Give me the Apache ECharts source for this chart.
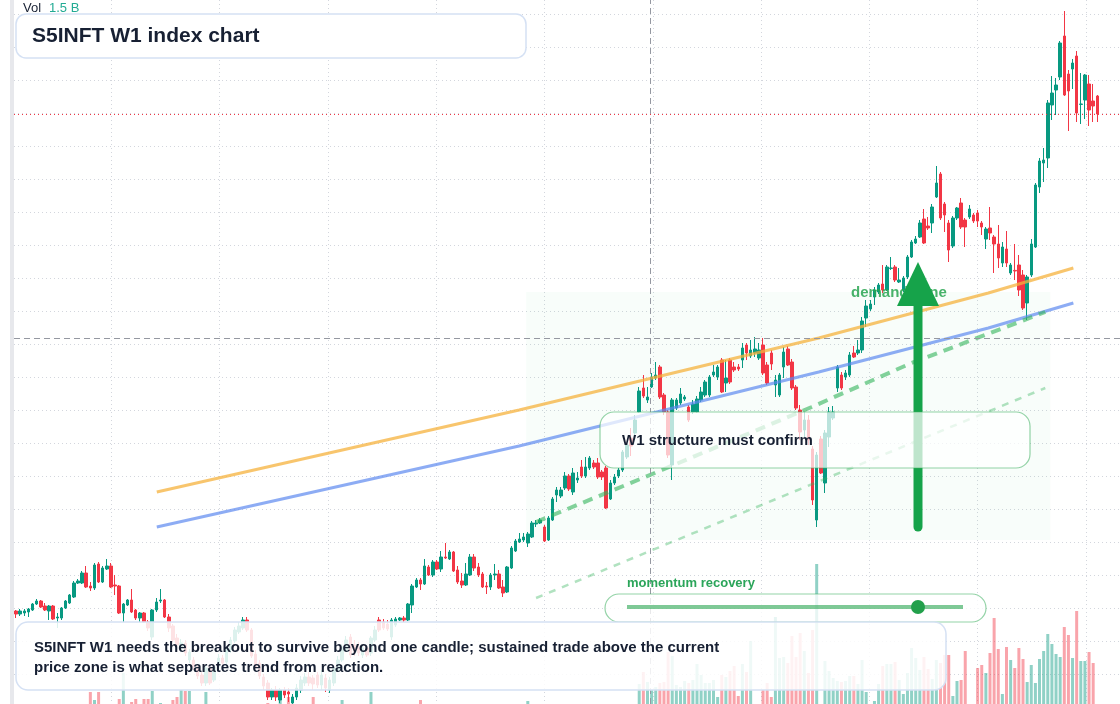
<!DOCTYPE html>
<html>
<head>
<meta charset="utf-8">
<title>S5INFT W1 index chart</title>
<script src="https://cdn.jsdelivr.net/npm/echarts@6/dist/echarts.min.js"></script>
<style>
  html, body { margin: 0; padding: 0; background: #ffffff; }
  #chart { width: 1120px; height: 704px; }
</style>
</head>
<body>
<div id="chart"></div>
<script>
(function (window) {
  'use strict';

  // weekly OHLC
  var opens = [
    945, 930, 935, 940, 950, 980, 995, 970, 945, 970,
    910, 910, 960, 985, 1015, 1085, 1085, 1135, 1070, 1060,
    1180, 1090, 1155, 1170, 1075, 1070, 935, 975, 1000, 950,
    910, 935, 890, 815, 950, 995, 1000, 915, 870, 810,
    760, 785, 700, 700, 660, 625, 585, 660, 600, 665,
    710, 690, 750, 795, 840, 860, 900, 850, 730, 685,
    615, 585, 515, 550, 500, 550, 540, 485, 515, 550,
    585, 615, 610, 625, 575, 610, 550, 585, 650, 700,
    750, 815, 775, 760, 725, 760, 735, 800, 900, 890,
    880, 815, 875, 900, 910, 900, 975, 1065, 1100, 1080,
    1165, 1125, 1190, 1155, 1215, 1205, 1240, 1150, 1095, 1075,
    1125, 1215, 1165, 1130, 1070, 1065, 1125, 1130, 1065, 1040,
    1160, 1245, 1290, 1300, 1285, 1315, 1380, 1385, 1365, 1300,
    1400, 1525, 1520, 1560, 1620, 1540, 1600, 1665, 1620, 1660,
    1685, 1685, 1640, 1660, 1505, 1585, 1620, 1650, 1715, 1810,
    1835, 1940, 2060, 2000, 2065, 2110, 2165, 2025, 1940, 1675,
    1960, 1985, 2005, 1965, 1940, 1940, 2000, 2025, 2025, 2125,
    2115, 2200, 2085, 2200, 2165, 2165, 2200, 2275, 2220, 2235,
    2210, 2275, 2175, 2235, 2075, 2025, 2165, 2255, 2190, 2065,
    1950, 1850, 1900, 1755, 1400, 1805, 1585, 1815, 1910, 2060,
    2125, 2115, 2125, 2235, 2235, 2250, 2410, 2455, 2515, 2540,
    2580, 2550, 2658, 2665, 2590, 2550, 2615, 2715, 2785, 2815,
    2905, 2870, 2885, 3015, 3130, 2980, 2885, 2770, 2910, 2985,
    2900, 2915, 2925, 2935, 2885, 2805, 2860, 2815, 2780, 2685,
    2755, 2635, 2648, 2675, 2625, 2485, 2625, 2765, 3065, 3185,
    3210, 3475, 3550, 3615, 3820, 3630, 3655, 3720, 3478, 3500,
    3580, 3495, 3520
  ];
  var closes = [
    930, 945, 945, 955, 980, 995, 965, 950, 970, 905,
    915, 960, 995, 1025, 1085, 1095, 1135, 1065, 1060, 1175,
    1090, 1160, 1170, 1065, 1070, 935, 980, 1000, 940, 910,
    935, 890, 860, 950, 990, 1000, 915, 860, 800, 775,
    785, 735, 740, 665, 620, 585, 660, 585, 665, 710,
    685, 750, 800, 850, 870, 900, 850, 720, 665, 620,
    570, 515, 550, 515, 550, 525, 530, 515, 560, 600,
    615, 585, 580, 575, 625, 560, 600, 660, 700, 765,
    800, 725, 740, 735, 760, 725, 810, 850, 850, 860,
    855, 900, 905, 910, 900, 980, 1070, 1100, 1080, 1170,
    1125, 1190, 1155, 1215, 1210, 1240, 1145, 1090, 1075, 1130,
    1215, 1160, 1125, 1065, 1065, 1125, 1130, 1060, 1035, 1165,
    1260, 1295, 1305, 1315, 1330, 1385, 1385, 1400, 1295, 1410,
    1505, 1550, 1550, 1620, 1555, 1635, 1610, 1620, 1665, 1710,
    1665, 1615, 1615, 1460, 1585, 1615, 1650, 1740, 1775, 1770,
    1900, 2045, 2020, 2015, 2115, 2125, 2015, 1940, 1725, 2000,
    2000, 2030, 2015, 1900, 1980, 2005, 2040, 2090, 2115, 2140,
    2165, 2040, 2110, 2090, 2150, 2155, 2260, 2235, 2250, 2255,
    2250, 2135, 2085, 2180, 2100, 2125, 2240, 2175, 2060, 1960,
    1840, 1900, 1800, 1500, 1725, 1635, 1835, 1940, 1940, 2165,
    2060, 2135, 2225, 2215, 2250, 2395, 2470, 2480, 2550, 2575,
    2550, 2665, 2660, 2600, 2600, 2610, 2715, 2790, 2805, 2885,
    2785, 2860, 2965, 3085, 2910, 2925, 2750, 2910, 2960, 2865,
    2865, 2955, 2895, 2895, 2865, 2855, 2835, 2780, 2710, 2765,
    2685, 2675, 2645, 2550, 2460, 2615, 2780, 3075, 3195, 3200,
    3485, 3535, 3575, 3785, 3525, 3545, 3685, 3435, 3480, 3625,
    3450, 3470, 3430
  ];
  var lows = [
    910, 920, 920, 915, 945, 975, 960, 945, 900, 900,
    860, 900, 955, 980, 1010, 1080, 1080, 1060, 1045, 1050,
    1085, 1085, 1150, 1060, 1025, 930, 890, 970, 935, 900,
    890, 885, 845, 800, 940, 985, 910, 840, 790, 760,
    740, 720, 685, 650, 605, 570, 570, 575, 590, 655,
    670, 680, 735, 785, 830, 850, 840, 710, 655, 605,
    550, 500, 500, 495, 485, 510, 490, 470, 500, 535,
    570, 570, 550, 560, 550, 540, 535, 570, 640, 690,
    740, 710, 720, 720, 710, 715, 720, 790, 840, 850,
    845, 800, 865, 895, 890, 895, 935, 1060, 1050, 1075,
    1120, 1115, 1150, 1140, 1205, 1200, 1140, 1080, 1060, 1070,
    1120, 1145, 1115, 1060, 1030, 1050, 1100, 1055, 1015, 1035,
    1155, 1240, 1285, 1290, 1265, 1310, 1365, 1380, 1290, 1295,
    1395, 1490, 1510, 1550, 1545, 1525, 1585, 1610, 1610, 1650,
    1655, 1605, 1600, 1455, 1500, 1575, 1610, 1640, 1705, 1720,
    1825, 1935, 2010, 1985, 2060, 2100, 2005, 1925, 1710, 1600,
    1950, 1975, 1995, 1890, 1930, 1935, 1990, 2015, 2015, 2115,
    2100, 2035, 2040, 2080, 2140, 2145, 2160, 2200, 2210, 2215,
    2200, 2125, 2075, 2150, 2015, 2015, 2110, 2170, 2050, 1950,
    1800, 1815, 1775, 1475, 1365, 1630, 1535, 1765, 1900, 2040,
    2050, 2100, 2115, 2210, 2225, 2235, 2365, 2445, 2475, 2530,
    2535, 2545, 2650, 2590, 2585, 2540, 2605, 2710, 2780, 2810,
    2780, 2850, 2835, 3010, 2900, 2840, 2690, 2760, 2900, 2855,
    2765, 2905, 2885, 2865, 2825, 2755, 2800, 2635, 2660, 2665,
    2665, 2625, 2600, 2520, 2450, 2400, 2615, 2760, 3035, 3090,
    3160, 3400, 3425, 3600, 3520, 3345, 3555, 3390, 3380, 3405,
    3370, 3390, 3390
  ];
  var highs = [
    950, 955, 955, 960, 985, 1005, 1000, 985, 975, 975,
    935, 965, 1000, 1030, 1095, 1105, 1145, 1170, 1090, 1185,
    1190, 1170, 1205, 1185, 1125, 1075, 985, 1005, 1055, 955,
    940, 940, 900, 955, 1010, 1055, 1005, 930, 880, 830,
    805, 800, 755, 715, 680, 640, 675, 670, 680, 730,
    725, 765, 815, 865, 890, 915, 915, 860, 750, 700,
    630, 600, 560, 570, 560, 565, 560, 530, 580, 620,
    635, 640, 625, 640, 650, 630, 615, 675, 720, 780,
    820, 830, 800, 790, 775, 775, 820, 870, 915, 905,
    900, 910, 915, 915, 920, 985, 1080, 1110, 1110, 1205,
    1175, 1200, 1200, 1245, 1285, 1250, 1245, 1170, 1135, 1185,
    1230, 1230, 1185, 1140, 1090, 1135, 1180, 1150, 1100, 1170,
    1270, 1305, 1335, 1335, 1340, 1395, 1400, 1410, 1375, 1420,
    1515, 1565, 1565, 1640, 1630, 1660, 1640, 1700, 1715, 1720,
    1700, 1710, 1650, 1670, 1600, 1630, 1660, 1750, 1785, 1860,
    1925, 2065, 2125, 2065, 2135, 2190, 2175, 2035, 1950, 2010,
    2010, 2060, 2025, 1975, 2000, 2020, 2065, 2100, 2125, 2175,
    2175, 2210, 2200, 2210, 2190, 2180, 2285, 2285, 2300, 2315,
    2285, 2310, 2190, 2250, 2125, 2135, 2265, 2270, 2205, 2075,
    1975, 1940, 1925, 1770, 1740, 1820, 1850, 1965, 1970, 2175,
    2140, 2150, 2240, 2270, 2300, 2415, 2500, 2500, 2565, 2585,
    2675, 2675, 2715, 2675, 2660, 2620, 2725, 2800, 2820, 2900,
    2955, 2915, 2980, 3170, 3140, 2990, 2900, 2920, 2965, 3010,
    2910, 2975, 2935, 2950, 2895, 2865, 2965, 2825, 2875, 2790,
    2845, 2685, 2780, 2725, 2650, 2625, 2805, 3085, 3210, 3260,
    3500, 3620, 3610, 3795, 3945, 3650, 3705, 3745, 3635, 3630,
    3625, 3580, 3525
  ];
  // weekly volume, millions
  var volumes = [
    150, 120, 100, 140, 180, 160, 130, 150, 200, 220,
    240, 190, 160, 170, 230, 150, 180, 210, 380, 300,
    380, 240, 200, 260, 250, 310, 570, 230, 280, 310,
    240, 310, 310, 390, 250, 270, 240, 250, 300, 330,
    400, 390, 390, 260, 240, 250, 380, 220, 200, 180,
    210, 190, 170, 200, 230, 250, 240, 260, 220, 230,
    250, 270, 230, 240, 300, 250, 330, 260, 220, 210,
    230, 200, 330, 220, 200, 230, 210, 190, 220, 300,
    240, 260, 220, 210, 200, 230, 380, 240, 220, 200,
    210, 230, 200, 180, 190, 210, 250, 220, 300, 200,
    190, 210, 220, 180, 200, 230, 220, 240, 210, 200,
    190, 220, 230, 200, 210, 190, 220, 240, 200, 210,
    190, 200, 220, 210, 290, 220, 200, 210, 190, 230,
    240, 220, 210, 200, 190, 230, 240, 220, 210, 250,
    230, 220, 240, 260, 230, 220, 240, 250, 230, 240,
    250, 460, 580, 480, 400, 430, 470, 480, 780, 740,
    450, 430, 490, 470, 500, 660, 550, 470, 470, 500,
    330, 550, 530, 590, 640, 340, 660, 580, 890, 150,
    150, 400, 470, 330, 1130, 720, 730, 670, 940, 730,
    970, 790, 570, 1000, 1660, 180, 690, 590, 520, 490,
    480, 490, 540, 540, 460, 700, 380, 180, 290, 460,
    640, 660, 660, 680, 500, 360, 570, 820, 720, 600,
    730, 610, 510, 700, 670, 750, 750, 340, 490, 500,
    790, 180, 180, 620, 650, 570, 770, 1120, 810, 360,
    830, 700, 620, 820, 710, 480, 650, 470, 710, 790,
    960, 860, 760, 730, 1030, 950, 720, 1190, 690, 690,
    780, 670, 150
  ];

  // drawn studies, [week index, price]
  var upperTrend = [[34.1, 1540], [121.9, 1950], [194.5, 2310], [235.6, 2535], [256.2, 2660]];
  var lowerTrend = [[34.1, 1365], [121.9, 1770], [194.5, 2140], [235.6, 2360], [256.2, 2485]];
  var supportDash = [[126.0, 1390], [156.5, 1650], [192.8, 1965], [217.0, 2185], [249.4, 2440]];
  var supportFaint = [[126.0, 1010], [249.4, 2060]];
  var demandZone = [[123.6, 2540], [250.6, 1300]];
  var crosshair = [153.6, 2310];

  var UP = '#089981';
  var DOWN = '#f23645';
  var INK = '#172033';
  var FONT = '"Liberation Sans", Arial, sans-serif';
  var PAD = 5; // empty weeks on the right

  var weeks = [];
  var d = new Date(Date.UTC(2020, 11, 7));
  for (var i = 0; i < opens.length + PAD; i++) {
    weeks.push(d.toISOString().slice(0, 10));
    d.setUTCDate(d.getUTCDate() + 7);
  }

  var candles = opens.map(function (o, i) {
    return [o, closes[i], lows[i], highs[i]];
  });

  var band = 4.1331;
  var plotWidth = band * weeks.length;
  var hidden = { axisLine: { show: false }, axisTick: { show: false }, axisLabel: { show: false }, splitLine: { show: false } };
  var dots = { show: true, lineStyle: { color: '#d3d6dd', type: [1, 3], width: 1 } };

  function ax(extra) {
    return Object.assign({}, hidden, extra);
  }

  var myChart = echarts.init(document.getElementById('chart'));
  var option = {
    animation: false,
    backgroundColor: '#ffffff',
    grid: [
      { left: 14, top: 0, width: plotWidth, height: 704 },
      { left: 14, top: 554, width: plotWidth, height: 150 },
      { left: 111.3, top: 0, width: 974.7, height: 704 },
      { left: 14, top: 14, width: 1106, height: 660 }
    ],
    xAxis: [
      ax({ type: 'category', gridIndex: 0, data: weeks, boundaryGap: true }),
      ax({ type: 'value', gridIndex: 0, min: -0.5, max: weeks.length - 0.5 }),
      ax({ type: 'category', gridIndex: 1, data: weeks, boundaryGap: true }),
      ax({ type: 'value', gridIndex: 2, min: 0, max: 974.7, interval: 108.3, splitLine: dots }),
      ax({ type: 'value', gridIndex: 3, min: 0, max: 1 })
    ],
    yAxis: [
      ax({ type: 'value', gridIndex: 0, min: 480, max: 4000 }),
      // the volume pane's zero sits below the window, so light weeks stay hidden
      ax({ type: 'value', gridIndex: 1, min: 260, max: 1760 }),
      ax({ type: 'value', gridIndex: 2, min: 0, max: 1 }),
      ax({ type: 'value', gridIndex: 3, min: 0, max: 20, interval: 1, splitLine: dots })
    ],
    series: [
      {
        name: 'zone',
        type: 'line',
        xAxisIndex: 1,
        yAxisIndex: 0,
        z: 1,
        silent: true,
        symbol: 'none',
        lineStyle: { opacity: 0 },
        data: demandZone,
        markArea: {
          silent: true,
          itemStyle: { color: 'rgba(34,180,90,0.03)' },
          data: [[{ coord: demandZone[0] }, { coord: demandZone[1] }]]
        }
      },
      {
        name: 'Vol',
        type: 'bar',
        xAxisIndex: 2,
        yAxisIndex: 1,
        z: 2,
        barWidth: 3,
        clip: true,
        data: volumes,
        itemStyle: {
          color: function (p) {
            return closes[p.dataIndex] >= opens[p.dataIndex] ? 'rgba(8,153,129,0.45)' : 'rgba(242,54,69,0.45)';
          }
        }
      },
      {
        name: 'S5INFT',
        type: 'candlestick',
        xAxisIndex: 0,
        yAxisIndex: 0,
        z: 3,
        barWidth: 3,
        data: candles,
        itemStyle: { color: UP, color0: DOWN, borderColor: UP, borderColor0: DOWN, borderWidth: 1 },
        markLine: {
          silent: true,
          symbol: ['none', 'none'],
          label: { show: false },
          lineStyle: { color: DOWN, type: [1, 3], width: 1 },
          data: [{ yAxis: closes[closes.length - 1] }]
        }
      },
      {
        type: 'line', xAxisIndex: 1, yAxisIndex: 0, z: 4, silent: true, symbol: 'none',
        lineStyle: { color: 'rgba(245,178,60,0.75)', width: 3 },
        data: upperTrend
      },
      {
        type: 'line', xAxisIndex: 1, yAxisIndex: 0, z: 4, silent: true, symbol: 'none',
        lineStyle: { color: 'rgba(92,137,240,0.7)', width: 3 },
        data: lowerTrend
      },
      {
        type: 'line', xAxisIndex: 1, yAxisIndex: 0, z: 4, silent: true, symbol: 'none',
        lineStyle: { color: 'rgba(50,180,90,0.6)', width: 4, type: [10, 7] },
        data: supportDash
      },
      {
        type: 'line', xAxisIndex: 1, yAxisIndex: 0, z: 4, silent: true, symbol: 'none',
        lineStyle: { color: 'rgba(50,180,90,0.38)', width: 2.5, type: [7, 7] },
        data: supportFaint
      },
      {
        type: 'line', xAxisIndex: 1, yAxisIndex: 0, z: 5, silent: true, symbol: 'none',
        lineStyle: { opacity: 0 },
        data: [crosshair],
        markLine: {
          silent: true,
          symbol: ['none', 'none'],
          label: { show: false },
          lineStyle: { color: '#9598a1', type: [6, 4], width: 1 },
          data: [{ xAxis: crosshair[0] }, { yAxis: crosshair[1] }]
        }
      }
    ],
    graphic: [
      { type: 'rect', z: 40, shape: { x: 10, y: 0, width: 4, height: 704 }, style: { fill: '#e7e8ec' } },
      {
        type: 'text', z: 41,
        style: { x: 851, y: 293, text: 'demand zone', font: 'bold 15px ' + FONT, fill: 'rgba(40,165,80,0.85)', verticalAlign: 'middle' }
      },
      {
        type: 'line', z: 42,
        shape: { x1: 918, y1: 527, x2: 918, y2: 300 },
        style: { stroke: '#16a34a', lineWidth: 9, lineCap: 'round' }
      },
      { type: 'polygon', z: 42, shape: { points: [[918, 262], [939, 306], [897, 306]] }, style: { fill: '#16a34a' } },
      {
        type: 'rect', z: 43,
        shape: { x: 600, y: 412, width: 430, height: 56, r: 14 },
        style: { fill: 'rgba(255,255,255,0.72)', stroke: 'rgba(60,175,95,0.55)', lineWidth: 1.2 }
      },
      {
        type: 'text', z: 44,
        style: { x: 622, y: 441, text: 'W1 structure must confirm', font: 'bold 15px ' + FONT, fill: INK, verticalAlign: 'middle' }
      },
      {
        type: 'text', z: 44,
        style: { x: 627, y: 583, text: 'momentum recovery', font: 'bold 13px ' + FONT, fill: '#2ba55a', verticalAlign: 'middle' }
      },
      {
        type: 'rect', z: 43,
        shape: { x: 605, y: 594, width: 381, height: 28, r: 14 },
        style: { fill: 'rgba(255,255,255,0.78)', stroke: 'rgba(60,175,95,0.55)', lineWidth: 1.2 }
      },
      {
        type: 'line', z: 44,
        shape: { x1: 627, y1: 607, x2: 963, y2: 607 },
        style: { stroke: 'rgba(40,165,80,0.6)', lineWidth: 4 }
      },
      { type: 'circle', z: 45, shape: { cx: 918, cy: 607, r: 7 }, style: { fill: '#22a04b' } },
      {
        type: 'rect', z: 46,
        shape: { x: 16, y: 622, width: 930, height: 68, r: 12 },
        style: { fill: 'rgba(255,255,255,0.86)', stroke: '#d5e1f4', lineWidth: 1.5 }
      },
      {
        type: 'text', z: 47,
        style: {
          x: 34, y: 648, font: 'bold 15px ' + FONT, fill: INK, verticalAlign: 'middle',
          text: 'S5INFT W1 needs the breakout to survive beyond one candle; sustained trade above the current'
        }
      },
      {
        type: 'text', z: 47,
        style: { x: 34, y: 668, font: 'bold 15px ' + FONT, fill: INK, verticalAlign: 'middle', text: 'price zone is what separates trend from reaction.' }
      },
      {
        type: 'rect', z: 46,
        shape: { x: 16, y: 14, width: 510, height: 44, r: 10 },
        style: { fill: '#ffffff', stroke: '#d5e1f4', lineWidth: 1.5 }
      },
      {
        type: 'text', z: 47,
        style: { x: 32, y: 36, text: 'S5INFT W1 index chart', font: 'bold 21px ' + FONT, fill: INK, verticalAlign: 'middle' }
      },
      { type: 'text', z: 47, style: { x: 23, y: 8, text: 'Vol', font: '13px ' + FONT, fill: INK, verticalAlign: 'middle' } },
      { type: 'text', z: 47, style: { x: 49, y: 8, text: '1.5 B', font: '13px ' + FONT, fill: '#22ab94', verticalAlign: 'middle' } }
    ]
  };

  myChart.setOption(option);
})(window);
</script>
</body>
</html>
